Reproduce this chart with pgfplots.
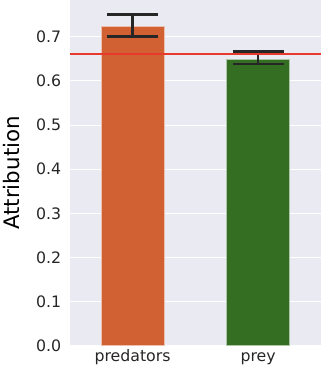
\documentclass[border=0pt]{standalone}
\usepackage{pgfplots}
\pgfplotsset{compat=1.18}
\usepackage{fontspec}
\setmainfont{DejaVu Sans}
\definecolor{bg}{HTML}{EAEAF2}
\definecolor{txt}{HTML}{262626}
\definecolor{predc}{HTML}{D16032}
\definecolor{preyc}{HTML}{346E23}
\definecolor{redl}{HTML}{E8392C}
\begin{document}
\begin{tikzpicture}
\begin{axis}[
  scale only axis,
  width=247pt, height=340pt,
  xmin=-0.5, xmax=1.5,
  ymin=0, ymax=0.783,
  axis background/.style={fill=bg},
  axis line style={draw=none},
  major tick length=0pt,
  xtick={0,1}, xticklabels={predators,prey},
  ytick={0,0.1,...,0.7},
  yticklabel style={/pgf/number format/fixed,/pgf/number format/fixed zerofill,/pgf/number format/precision=1, xshift=-5pt},
  /pgf/number format/assume math mode=true,
  ticklabel style={font=\fontsize{15.5}{18}\selectfont, text=txt},
  ymajorgrids, grid style={white, line width=0.9pt},
  ylabel={Attribution},
  ylabel style={font=\fontsize{21}{24}\selectfont, text=black, yshift=9pt},
  xticklabel style={yshift=-1pt, text height=11pt, text depth=3pt},
  clip=false,
]
\addplot[ybar, bar width=0.5, fill=predc, draw=white!60!predc, line width=0.6pt, bar shift=0pt,
  error bars/.cd, y dir=both, y explicit,
  error bar style={line width=2.6pt, draw=txt},
  error mark options={rotate=90, mark size=25pt, line width=2.6pt, draw=txt}]
  coordinates {(0,0.7245) += (0,0.0265) -= (0,0.0238)};
\addplot[ybar, bar width=0.5, fill=preyc, draw=white!60!preyc, line width=0.6pt, bar shift=0pt,
  error bars/.cd, y dir=both, y explicit,
  error bar style={line width=2.6pt, draw=txt},
  error mark options={rotate=90, mark size=25pt, line width=2.6pt, draw=txt}]
  coordinates {(1,0.6478) += (0,0.0191) -= (0,0.0098)};
\addplot[draw=redl, line width=1.6pt, mark=none, forget plot] coordinates {(-0.5,0.661) (1.5,0.661)};
\end{axis}
\end{tikzpicture}
\end{document}
